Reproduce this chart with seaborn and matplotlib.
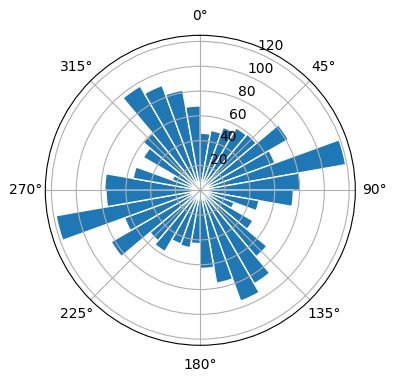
import numpy as np
import pandas as pd
import matplotlib
matplotlib.use("Agg")
import matplotlib.pyplot as plt
import seaborn as sns

# bin start angles (degrees) and counts
bin_start_deg = list(range(0, 360, 10))
counts = [46, 49, 54, 58, 59, 82, 64, 119, 81,
          75, 48, 29, 49, 70, 87, 95, 76, 63,
          43, 47, 46, 57, 53, 83, 65, 118, 76,
          77, 55, 24, 53, 60, 97, 90, 82, 68]
bin_width_deg = 10

fig = plt.figure(figsize=(3.96, 3.80), dpi=100)
cx, cy, R = 200.3, 380 - 190.3, 155.0
ax = fig.add_axes([(cx - R) / 396, (cy - R) / 380, 2 * R / 396, 2 * R / 380],
                  projection="polar")
ax.set_theta_zero_location("N")
ax.set_theta_direction(-1)

df = pd.DataFrame({
    "theta": np.deg2rad(np.array(bin_start_deg, dtype=float) + bin_width_deg / 2),
    "count": np.array(counts, dtype=float),
})
sns.histplot(data=df, x="theta", weights="count", bins=len(counts),
             binrange=(0, 2 * np.pi), ax=ax,
             color="#1f77b4", alpha=1.0, edgecolor="white", linewidth=1.0)
ax.set_xlabel("")
ax.set_ylabel("")
ax.set_ylim(0, max(counts) * 1.05)
ax.set_rlabel_position(22.5)
ax.grid(True)

fig.savefig("out.png", dpi=100)
